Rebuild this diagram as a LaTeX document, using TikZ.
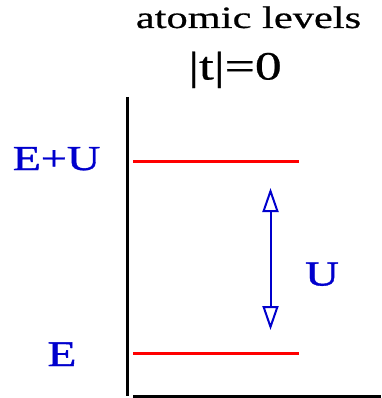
\documentclass[tikz,border=0pt]{standalone}
\usepackage{fontspec}
\setmainfont{Liberation Serif}
\newfontfamily\heavy{Liberation Serif}[FakeBold=1.0]
\newfontfamily\medium{Liberation Serif}[FakeBold=0.5]
\usetikzlibrary{arrows.meta}
\definecolor{lblblue}{RGB}{0,0,205}
\tikzset{
  lbl/.style={inner sep=0pt, anchor=base, text=lblblue, font=\heavy},
  ttl/.style={inner sep=0pt, anchor=base, text=black, font=\medium},
  axisline/.style={line width=3.5pt, black},
  level/.style={line width=3pt, red},
  gap/.style={line width=2pt, lblblue, {Triangle[open, length=24pt, width=16pt]}-{Triangle[open, length=24pt, width=16pt]}}
}
\begin{document}
\begin{tikzpicture}[x=1pt,y=-1pt]
\useasboundingbox (0,0) rectangle (381,398);
\node[ttl] (title) at (248.5,28) {\scalebox{1.37}[1]{\fontsize{31}{31}\selectfont atomic levels}};
\node[ttl] (tzero) at (235,79.5) {\scalebox{1.34}[1]{\fontsize{40}{40}\selectfont |t|=0}};
\coordinate (vtop) at (127.5,97);
\coordinate (vbot) at (127.5,396);
\coordinate (hl) at (133,396);
\coordinate (hr) at (381,396);
\draw[axisline] (vtop) -- (vbot);
\draw[axisline, line width=3pt] (hl) -- (hr);
\coordinate (u1) at (133,161);
\coordinate (u2) at (299,161);
\coordinate (l1) at (133,353);
\coordinate (l2) at (299,353);
\draw[level] (u1) -- (u2);
\draw[level] (l1) -- (l2);
\node[lbl] (EU) at (56.5,170) {\scalebox{1.32}[1]{\fontsize{35}{35}\selectfont E+U}};
\node[lbl] (E) at (62,366) {\scalebox{1.31}[1]{\fontsize{36}{36}\selectfont E}};
\node[lbl] (U) at (322,285.5) {\scalebox{1.34}[1]{\fontsize{35}{35}\selectfont U}};
\coordinate (atop) at (270.5,188);
\coordinate (abot) at (270.5,330);
\draw[gap] (atop) -- (abot);
\end{tikzpicture}
\end{document}
